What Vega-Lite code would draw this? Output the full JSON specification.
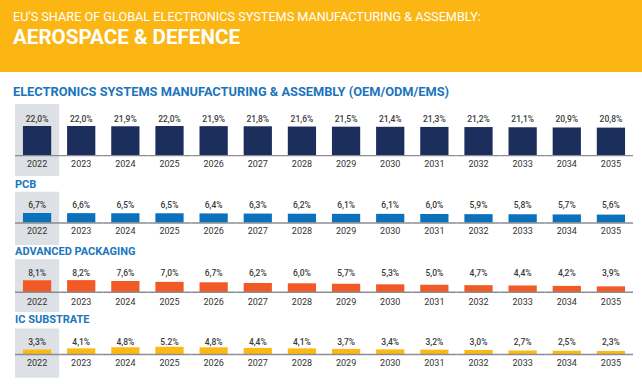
{
  "$schema": "https://vega.github.io/schema/vega-lite/v6.json",
  "background": "#FBB614",
  "padding": {"left": 0, "right": 0, "top": 10, "bottom": 0},
  "spacing": 0,
  "title": {
    "text": "EU'S SHARE OF GLOBAL ELECTRONICS SYSTEMS MANUFACTURING & ASSEMBLY:",
    "subtitle": "AEROSPACE & DEFENCE",
    "anchor": "start",
    "frame": "group",
    "dx": 13,
    "font": "Roboto",
    "fontSize": 12.7,
    "fontWeight": "normal",
    "color": "#ffffff",
    "subtitleFont": "Roboto",
    "subtitleFontSize": 20.6,
    "subtitleFontWeight": "bold",
    "subtitleColor": "#ffffff",
    "subtitlePadding": 5,
    "offset": 23
  },
  "datasets": {
    "ems": [
      {"year": "2022", "v": 22.0, "t": "22,0%"},
      {"year": "2023", "v": 22.0, "t": "22,0%"},
      {"year": "2024", "v": 21.9, "t": "21,9%"},
      {"year": "2025", "v": 22.0, "t": "22,0%"},
      {"year": "2026", "v": 21.9, "t": "21,9%"},
      {"year": "2027", "v": 21.8, "t": "21,8%"},
      {"year": "2028", "v": 21.6, "t": "21,6%"},
      {"year": "2029", "v": 21.5, "t": "21,5%"},
      {"year": "2030", "v": 21.4, "t": "21,4%"},
      {"year": "2031", "v": 21.3, "t": "21,3%"},
      {"year": "2032", "v": 21.2, "t": "21,2%"},
      {"year": "2033", "v": 21.1, "t": "21,1%"},
      {"year": "2034", "v": 20.9, "t": "20,9%"},
      {"year": "2035", "v": 20.8, "t": "20,8%"}
    ],
    "pcb": [
      {"year": "2022", "v": 6.7, "t": "6,7%"},
      {"year": "2023", "v": 6.6, "t": "6,6%"},
      {"year": "2024", "v": 6.5, "t": "6,5%"},
      {"year": "2025", "v": 6.5, "t": "6,5%"},
      {"year": "2026", "v": 6.4, "t": "6,4%"},
      {"year": "2027", "v": 6.3, "t": "6,3%"},
      {"year": "2028", "v": 6.2, "t": "6,2%"},
      {"year": "2029", "v": 6.1, "t": "6,1%"},
      {"year": "2030", "v": 6.1, "t": "6,1%"},
      {"year": "2031", "v": 6.0, "t": "6,0%"},
      {"year": "2032", "v": 5.9, "t": "5,9%"},
      {"year": "2033", "v": 5.8, "t": "5,8%"},
      {"year": "2034", "v": 5.7, "t": "5,7%"},
      {"year": "2035", "v": 5.6, "t": "5,6%"}
    ],
    "ap": [
      {"year": "2022", "v": 8.1, "t": "8,1%"},
      {"year": "2023", "v": 8.2, "t": "8,2%"},
      {"year": "2024", "v": 7.6, "t": "7,6%"},
      {"year": "2025", "v": 7.0, "t": "7,0%"},
      {"year": "2026", "v": 6.7, "t": "6,7%"},
      {"year": "2027", "v": 6.2, "t": "6,2%"},
      {"year": "2028", "v": 6.0, "t": "6,0%"},
      {"year": "2029", "v": 5.7, "t": "5,7%"},
      {"year": "2030", "v": 5.3, "t": "5,3%"},
      {"year": "2031", "v": 5.0, "t": "5,0%"},
      {"year": "2032", "v": 4.7, "t": "4,7%"},
      {"year": "2033", "v": 4.4, "t": "4,4%"},
      {"year": "2034", "v": 4.2, "t": "4,2%"},
      {"year": "2035", "v": 3.9, "t": "3,9%"}
    ],
    "ic": [
      {"year": "2022", "v": 3.3, "t": "3,3%"},
      {"year": "2023", "v": 4.1, "t": "4,1%"},
      {"year": "2024", "v": 4.8, "t": "4,8%"},
      {"year": "2025", "v": 5.2, "t": "5.2%"},
      {"year": "2026", "v": 4.8, "t": "4,8%"},
      {"year": "2027", "v": 4.4, "t": "4,4%"},
      {"year": "2028", "v": 4.1, "t": "4,1%"},
      {"year": "2029", "v": 3.7, "t": "3,7%"},
      {"year": "2030", "v": 3.4, "t": "3,4%"},
      {"year": "2031", "v": 3.2, "t": "3,2%"},
      {"year": "2032", "v": 3.0, "t": "3,0%"},
      {"year": "2033", "v": 2.7, "t": "2,7%"},
      {"year": "2034", "v": 2.5, "t": "2,5%"},
      {"year": "2035", "v": 2.3, "t": "2,3%"}
    ]
  },
  "vconcat": [
    {
      "width": 642, "height": 106,
      "view": {"fill": "#ffffff", "stroke": null},
      "data": {"name": "ems"},
      "encoding": {"x": {"field": "year", "type": "nominal", "scale": {"range": [15, 633], "paddingInner": 0, "paddingOuter": 0}, "axis": null}},
      "layer": [
        {"transform": [{"filter": "datum.year == '2022'"}], "mark": {"type": "bar", "color": "#DDE0E4", "width": {"band": 1}},
         "encoding": {"y": {"datum": 38.5, "type": "quantitative", "scale": {"domain": [-17.04, 62.54], "nice": false, "zero": false}, "axis": null}, "y2": {"datum": -15.54}}},
        {"mark": {"type": "bar", "color": "#1C2E5C", "width": {"band": 0.64}},
         "encoding": {"y": {"field": "v", "type": "quantitative", "axis": null}, "y2": {"datum": 0}}},
        {"mark": {"type": "bar", "color": "#8A8D91", "width": {"band": 1}},
         "encoding": {"y": {"datum": 0.3, "type": "quantitative"}, "y2": {"datum": -0.75}}},
        {"mark": {"type": "text", "font": "Roboto", "fontSize": 8.5, "fontWeight": 500, "color": "#3A3A3A", "baseline": "middle"},
         "encoding": {"y": {"datum": 27.25, "type": "quantitative"}, "text": {"field": "t"}}},
        {"mark": {"type": "text", "font": "Roboto", "fontSize": 9, "color": "#333333", "baseline": "middle"},
         "encoding": {"y": {"datum": -6.53, "type": "quantitative"}, "text": {"field": "year"}}},
        {"data": {"values": [{"t": "ELECTRONICS SYSTEMS MANUFACTURING & ASSEMBLY (OEM/ODM/EMS)"}]},
         "mark": {"type": "text", "font": "Roboto", "fontSize": 12.8, "fontWeight": "bold", "color": "#1B75BC", "align": "left", "baseline": "middle", "dx": -2},
         "encoding": {"x": {"datum": "2022", "bandPosition": 0}, "y": {"datum": 47.52, "type": "quantitative"}, "text": {"field": "t"}}}
      ]
    },
    {
      "width": 642, "height": 67,
      "view": {"fill": "#ffffff", "stroke": null},
      "data": {"name": "pcb"},
      "encoding": {"x": {"field": "year", "type": "nominal", "scale": {"range": [15, 633], "paddingInner": 0, "paddingOuter": 0}, "axis": null}},
      "layer": [
        {"transform": [{"filter": "datum.year == '2022'"}], "mark": {"type": "bar", "color": "#DDE0E4", "width": {"band": 1}},
         "encoding": {"y": {"datum": 21.4, "type": "quantitative", "scale": {"domain": [-15.38, 30.83], "nice": false, "zero": false}, "axis": null}, "y2": {"datum": -15.38}}},
        {"mark": {"type": "bar", "color": "#0B71BA", "width": {"band": 0.64}},
         "encoding": {"y": {"field": "v", "type": "quantitative", "axis": null}, "y2": {"datum": 0}}},
        {"mark": {"type": "bar", "color": "#8A8D91", "width": {"band": 1}},
         "encoding": {"y": {"datum": 0.3, "type": "quantitative"}, "y2": {"datum": -0.7}}},
        {"mark": {"type": "text", "font": "Roboto", "fontSize": 8.5, "fontWeight": 500, "color": "#3A3A3A", "baseline": "middle"},
         "encoding": {"y": {"datum": 12.07, "type": "quantitative"}, "text": {"field": "t"}}},
        {"mark": {"type": "text", "font": "Roboto", "fontSize": 9, "color": "#333333", "baseline": "middle"},
         "encoding": {"y": {"datum": -5.72, "type": "quantitative"}, "text": {"field": "year"}}},
        {"data": {"values": [{"t": "PCB"}]},
         "mark": {"type": "text", "font": "Roboto", "fontSize": 11, "fontWeight": "bold", "color": "#1B75BC", "align": "left", "baseline": "middle"},
         "encoding": {"x": {"datum": "2022", "bandPosition": 0}, "y": {"datum": 26.0, "type": "quantitative"}, "text": {"field": "t"}}}
      ]
    },
    {
      "width": 642, "height": 69,
      "view": {"fill": "#ffffff", "stroke": null},
      "data": {"name": "ap"},
      "encoding": {"x": {"field": "year", "type": "nominal", "scale": {"range": [15, 633], "paddingInner": 0, "paddingOuter": 0}, "axis": null}},
      "layer": [
        {"transform": [{"filter": "datum.year == '2022'"}], "mark": {"type": "bar", "color": "#DDE0E4", "width": {"band": 1}},
         "encoding": {"y": {"datum": 22.55, "type": "quantitative", "scale": {"domain": [-15.17, 32.41], "nice": false, "zero": false}, "axis": null}, "y2": {"datum": -13.79}}},
        {"mark": {"type": "bar", "color": "#F15A24", "width": {"band": 0.64}},
         "encoding": {"y": {"field": "v", "type": "quantitative", "axis": null}, "y2": {"datum": 0}}},
        {"mark": {"type": "bar", "color": "#8A8D91", "width": {"band": 1}},
         "encoding": {"y": {"datum": 0.3, "type": "quantitative"}, "y2": {"datum": -0.7}}},
        {"mark": {"type": "text", "font": "Roboto", "fontSize": 8.5, "fontWeight": 500, "color": "#3A3A3A", "baseline": "middle"},
         "encoding": {"y": {"datum": 13.1, "type": "quantitative"}, "text": {"field": "t"}}},
        {"mark": {"type": "text", "font": "Roboto", "fontSize": 9, "color": "#333333", "baseline": "middle"},
         "encoding": {"y": {"datum": -6.69, "type": "quantitative"}, "text": {"field": "year"}}},
        {"data": {"values": [{"t": "ADVANCED PACKAGING"}]},
         "mark": {"type": "text", "font": "Roboto", "fontSize": 11, "fontWeight": "bold", "color": "#1B75BC", "align": "left", "baseline": "middle"},
         "encoding": {"x": {"datum": "2022", "bandPosition": 0}, "y": {"datum": 27.59, "type": "quantitative"}, "text": {"field": "t"}}}
      ]
    },
    {
      "width": 642, "height": 75,
      "view": {"fill": "#ffffff", "stroke": null},
      "data": {"name": "ic"},
      "encoding": {"x": {"field": "year", "type": "nominal", "scale": {"range": [15, 633], "paddingInner": 0, "paddingOuter": 0}, "axis": null}},
      "layer": [
        {"transform": [{"filter": "datum.year == '2022'"}], "mark": {"type": "bar", "color": "#DDE0E4", "width": {"band": 1}},
         "encoding": {"y": {"datum": 17.8, "type": "quantitative", "scale": {"domain": [-23.93, 27.79], "nice": false, "zero": false}, "axis": null}, "y2": {"datum": -16.14}}},
        {"mark": {"type": "bar", "color": "#FDB913", "width": {"band": 0.64}},
         "encoding": {"y": {"field": "v", "type": "quantitative", "axis": null}, "y2": {"datum": 0}}},
        {"mark": {"type": "bar", "color": "#8A8D91", "width": {"band": 1}},
         "encoding": {"y": {"datum": 0.3, "type": "quantitative"}, "y2": {"datum": -0.7}}},
        {"mark": {"type": "text", "font": "Roboto", "fontSize": 8.5, "fontWeight": 500, "color": "#3A3A3A", "baseline": "middle"},
         "encoding": {"y": {"datum": 8.28, "type": "quantitative"}, "text": {"field": "t"}}},
        {"mark": {"type": "text", "font": "Roboto", "fontSize": 9, "color": "#333333", "baseline": "middle"},
         "encoding": {"y": {"datum": -6.21, "type": "quantitative"}, "text": {"field": "year"}}},
        {"data": {"values": [{"t": "IC SUBSTRATE"}]},
         "mark": {"type": "text", "font": "Roboto", "fontSize": 11, "fontWeight": "bold", "color": "#1B75BC", "align": "left", "baseline": "middle"},
         "encoding": {"x": {"datum": "2022", "bandPosition": 0}, "y": {"datum": 23.31, "type": "quantitative"}, "text": {"field": "t"}}}
      ]
    }
  ],
  "config": {"view": {"stroke": null}, "concat": {"spacing": 0}}
}
